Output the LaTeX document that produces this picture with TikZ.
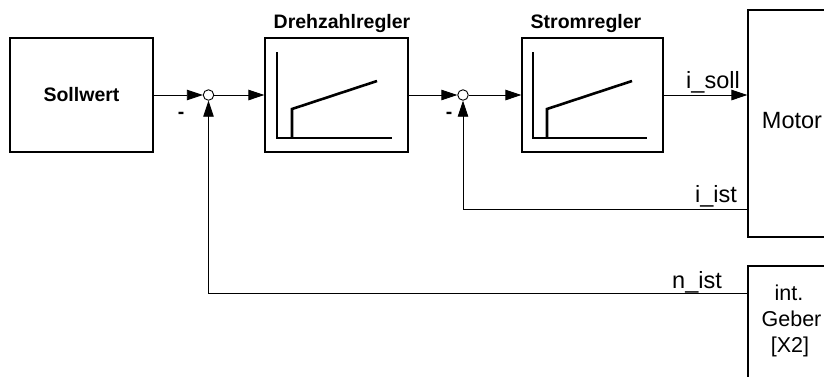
\documentclass[tikz,border=0pt]{standalone}
\usepackage{fontspec}
\setmainfont{Liberation Sans}
\usetikzlibrary{arrows.meta}
\begin{document}
\begin{tikzpicture}[x=1pt,y=-1pt,
  blk/.style={draw, line width=1.2pt, inner sep=0pt},
  sumpt/.style={draw, circle, line width=0.9pt, fill=white, minimum size=10.5pt, inner sep=0pt},
  sig/.style={line width=0.9pt, -{Triangle[length=16pt,width=10.5pt]}},
  axis/.style={line width=1.3pt},
  curve/.style={line width=2.6pt},
  bld/.style={font=\fontsize{19.5}{22}\selectfont\bfseries},
  lab/.style={font=\fontsize{23.5}{26}\selectfont, anchor=base},
  glab/.style={font=\fontsize{21.5}{26}\selectfont, anchor=base}]
\clip (0,0) rectangle (824,376);
\fill[white] (0,0) rectangle (824,376);

% blocks
\node[blk, minimum width=143pt, minimum height=114pt] (soll) at (81.5,95) {};
\node[bld, anchor=base] (sollt) at (81.5,101) {Sollwert};
\node[blk, minimum width=143pt, minimum height=114pt] (dreh) at (336.5,95) {};
\node[blk, minimum width=141pt, minimum height=114pt] (strom) at (592.5,95) {};
\node[bld, anchor=base] (dreht) at (342,28) {Drehzahlregler};
\node[bld, anchor=base] (stromt) at (586,28) {Stromregler};
\node[blk, minimum width=88pt, minimum height=227pt] (motor) at (792,123.5) {};
\node[lab] (motort) at (792,128) {Motor};
\node[blk, minimum width=88pt, minimum height=160pt] (geber) at (792,346) {};
\node[glab] (g1) at (789,300) {int.};
\node[glab] (g2) at (791.5,326) {Geber};
\node[glab] (g3) at (790,352) {[X2]};

% controller characteristics
\draw[axis] (277,52) -- (277,138) -- (392,138);
\draw[curve] (292,138) -- (292,109) -- (377,81);
\draw[axis] (533,52) -- (533,138) -- (647,138);
\draw[curve] (547,138) -- (547,109) -- (632,81);

% summing points
\node[sumpt] (s1) at (208.5,95) {};
\node[sumpt] (s2) at (463,95) {};

% signals
\draw[sig] (soll.east) -- (s1.west);
\draw[sig] (s1.east) -- (dreh.west);
\draw[sig] (dreh.east) -- (s2.west);
\draw[sig] (s2.east) -- (strom.west);
\draw[sig] (strom.east) -- (strom.east -| motor.west);
\coordinate (iist) at (motor.west |- 0,209);
\coordinate (nist) at (geber.west |- 0,293);
\draw[sig] (iist) -| (s2.south);
\draw[sig] (nist) -| (s1.south);

% labels
\node[bld, anchor=base] (m1) at (181,118) {-};
\node[bld, anchor=base] (m2) at (449,118) {-};
\node[lab] (isoll) at (713,88) {i\_soll};
\node[lab] (iistt) at (716,202) {i\_ist};
\node[lab] (nistt) at (697,288) {n\_ist};
\end{tikzpicture}
\end{document}
